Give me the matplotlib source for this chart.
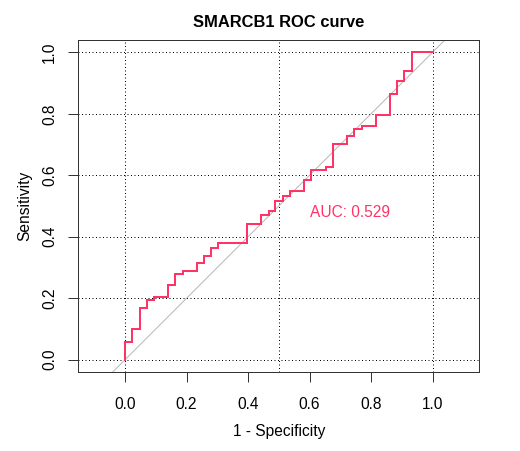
import numpy as np
import matplotlib.pyplot as plt

plt.rcParams['font.family'] = ['Liberation Sans', 'DejaVu Sans']

# ROC step corners (1 - specificity, sensitivity)
fpr = [0.0, 0.024, 0.048, 0.071, 0.093, 0.140, 0.163, 0.187, 0.234, 0.256,
       0.279, 0.303, 0.395, 0.443, 0.467, 0.488, 0.513, 0.536, 0.582, 0.606,
       0.652, 0.675, 0.722, 0.745, 0.769, 0.816, 0.861, 0.885, 0.908, 0.932, 1.0]
tpr = [0.0, 0.057, 0.101, 0.168, 0.195, 0.204, 0.244, 0.278, 0.289, 0.313,
       0.336, 0.362, 0.380, 0.441, 0.472, 0.483, 0.516, 0.533, 0.549, 0.584,
       0.617, 0.627, 0.701, 0.727, 0.752, 0.761, 0.797, 0.863, 0.906, 0.940, 1.0]
auc = 0.529
title = 'SMARCB1 ROC curve'
ticks = [0.0, 0.2, 0.4, 0.6, 0.8, 1.0]
vgrid = [0.0, 0.5, 1.0]

W, H = 520, 451
fs = 15.5
fig = plt.figure(figsize=(W / 72, H / 72), dpi=72)
ax = fig.add_axes([78.3 / W, (H - 372) / H, (479.3 - 78.3) / W, (372 - 40) / H])
ax.set_xlim(-0.152, 1.152)
ax.set_ylim(-0.04, 1.04)

for v in vgrid:
    ax.axvline(v, color='black', lw=1, ls=(0, (1, 2.5)), zorder=1)
for t in ticks:
    ax.axhline(t, color='black', lw=1, ls=(0, (1, 2.5)), zorder=1)

ax.plot([-0.2, 1.2], [-0.2, 1.2], color='#b8b8b8', lw=1, zorder=2)

# each fpr/tpr pair ends a horizontal run; the climb comes first
xs = np.repeat(fpr, 2)[:-1]
ys = np.repeat(tpr, 2)[1:]
ax.plot(xs, ys, color='#ff3366', lw=2, zorder=3, solid_joinstyle='miter')

ax.text(0.6, 0.48, 'AUC: %.3f' % auc, color='#ff3366', fontsize=fs,
        ha='left', va='center')

ax.set_xticks(ticks)
ax.set_yticks(ticks)
ax.set_xticklabels(['%.1f' % t for t in ticks])
ax.set_yticklabels(['%.1f' % t for t in ticks], rotation=90, va='center')
ax.tick_params(direction='out', length=10, width=1, labelsize=fs, color='#333333')
ax.tick_params(axis='x', pad=15)
ax.tick_params(axis='y', pad=11)
for s in ax.spines.values():
    s.set_linewidth(1)
    s.set_color('#333333')

ax.set_xlabel('1 - Specificity', fontsize=fs, labelpad=12)
ax.set_ylabel('Sensitivity', fontsize=fs, labelpad=10)
ax.set_title(title, fontsize=16.5, fontweight='bold', pad=13)

fig.savefig('out.png', dpi=72)
